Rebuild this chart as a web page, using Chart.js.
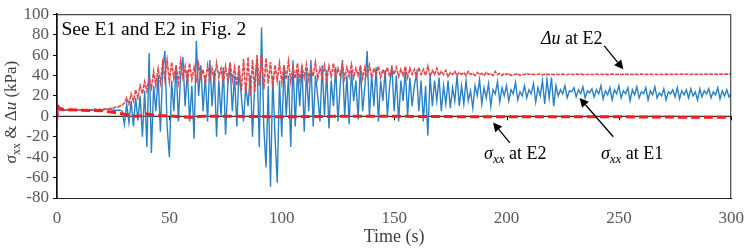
<!DOCTYPE html>
<html lang="en">
<head>
    <meta charset="UTF-8">
    <title>Stress and pore pressure at E1 / E2</title>
    <script src="https://cdn.jsdelivr.net/npm/chart.js"></script>
    <style>
        body { margin: 0; background: #fff; }
        #wrap { width: 754px; height: 248px; }
    </style>
</head>
<body>
    <div id="wrap"><canvas id="stressChart" width="754" height="248"></canvas></div>
    <script>
        // time grid (s), one sample per second
        const times = Array.from({length: 301}, (_, i) => i);

        // sigma_xx at E1 (kPa)
        const sxxE1 = [
            8, 7, 6, 6, 6, 6, 6, 6, 6, 6,
            6, 6, 6, 6, 6, 6, 6, 6, 6, 6,
            6, 7, 7, 7, 7, 6, 6, 6, 6, 5,
            -8, 12, -6, 15, -10, 18, -4, 20, -20, 25,
            -30, 62, -36, 30, 5, 40, -15, 45, 64, -10,
            -40, 35, 5, 50, -5, 40, 58, 10, 45, -5,
            30, -22, 74, 20, 50, 5, 40, -5, 55, 10,
            45, -20, 35, 0, 48, -18, 30, 50, 5, 40,
            -10, 45, 20, -5, 30, 10, 40, -20, 35, 55,
            -30, 87, -10, -50, 30, -69, 40, -20, -65, 35,
            -20, 50, 0, 40, -30, 55, -10, 45, 10, 50,
            -15, 45, 5, 55, -10, 40, 20, -5, 50, 0,
            45, -12, 35, 10, 48, -5, 30, 55, 0, 40,
            -8, 45, 15, 35, -3, 50, 5, 30, 64, 0,
            40, 10, 48, -5, 35, 15, 45, 0, 30, 50,
            5, 40, -5, 35, 15, 45, 0, 38, 10, 30,
            42, 5, 35, -5, 30, -19, 40, 10, 35, 15,
            38, 5, 30, 12, 35, 8, 28, 15, 40, 10,
            30, 12, 35, 15, 25, 8, 30, 20, 36, 12,
            28, 18, 32, 10, 26, 22, 34, 14, 28, 20,
            30, 15, 26, 22, 33, 16, 24, 20, 30, 18,
            26, 22, 32, 14, 28, 20, 35, 12, 36, 18,
            38, 10, 30, 20, 26, 22, 30, 18, 25, 24,
            28, 19, 26, 22, 29, 18, 25, 23, 27, 19,
            26, 22, 30, 17, 25, 21, 28, 16, 26, 22,
            30, 18, 25, 22, 28, 15, 26, 21, 29, 18,
            24, 22, 28, 16, 25, 21, 29, 18, 23, 20,
            27, 16, 24, 22, 26, 19, 28, 17, 25, 21,
            26, 18, 27, 20, 24, 16, 27, 19, 25, 22,
            27, 18, 24, 21, 28, 17, 25, 20, 26, 19,
            22
        ];

        // excess pore pressure du at E2 (kPa)
        const duE2 = [
            -5, 7, 7, 6, 7, 6, 7, 6, 7, 6,
            7, 6, 7, 6, 7, 6, 7, 7, 6, 7,
            6, 7, 7, 7, 8, 8, 9, 9, 10, 11,
            13, 18, 12, 22, 15, 26, 18, 30, 22, 34,
            25, 38, 28, 44, 30, 47, 33, 52, 36, 55,
            34, 53, 37, 50, 33, 54, 38, 49, 32, 52,
            36, 48, 33, 51, 38, 46, 32, 50, 37, 47,
            34, 52, 38, 47, 33, 49, 36, 53, 35, 48,
            30, 50, 25, 56, 22, 58, 20, 55, 24, 60,
            30, 62, 26, 57, 32, 53, 28, 50, 35, 52,
            33, 50, 36, 54, 34, 48, 37, 52, 35, 49,
            38, 51, 36, 48, 39, 53, 37, 47, 38, 50,
            36, 49, 39, 52, 37, 47, 40, 50, 37, 48,
            39, 51, 38, 47, 40, 49, 37, 48, 40, 50,
            38, 47, 41, 49, 38, 46, 40, 48, 39, 47,
            41, 48, 39, 46, 40, 49, 38, 47, 41, 46,
            39, 48, 41, 46, 40, 49, 39, 45, 41, 47,
            40, 44, 41, 45, 39, 43, 41, 44, 40, 43,
            41, 43, 40, 44, 41, 42, 40, 43, 41, 42,
            40, 43, 41, 42, 40, 44, 41, 42, 40, 42,
            41, 42, 40, 41, 41, 42, 40, 41, 41, 42,
            41, 41.5, 40.8, 41.2, 41, 41.6, 40.7, 41.1, 41.4, 40.9,
            41.2, 40.8, 41.5, 41, 40.9, 41.3, 41, 40.7, 41.4, 41.1,
            40.9, 41.3, 41, 41.5, 40.8, 41.2, 41, 41.3, 40.9, 41.1,
            41.4, 40.9, 41.2, 41, 41.3, 40.8, 41.1, 41.4, 41, 40.9,
            41.3, 41.1, 40.9, 41.4, 41, 41.2, 40.8, 41.3, 41.1, 41,
            41.4, 40.9, 41.2, 41.1, 41.3, 40.9, 41.2, 41, 41.4, 41.1,
            41, 41.3, 40.9, 41.2, 41.1, 41.4, 41, 41.2, 41.3, 41,
            41.2, 41.4, 41, 41.3, 41.1, 41.2, 41.4, 41, 41.3, 41.2,
            41.1, 41.4, 41.2, 41.3, 41, 41.4, 41.2, 41.3, 41.5, 41.2,
            41.3
        ];

        // sigma_xx at E2 (kPa), sparse readings
        const e2Times = [0, 1, 3, 10, 20, 25, 30, 35, 38, 40, 42, 45, 50, 55, 60, 65, 80, 100, 125, 150, 175, 200, 225, 250, 275, 300];
        const sxxE2 = [11, 8, 6.5, 6, 5.5, 4, 2, 0, 0.5, 2.5, 1.5, 0.5, 0.5, -0.5, -1, 0, 0, -0.5, 0, 0, -0.3, -0.5, -0.5, -0.5, -0.8, -1];

        const xTicks = [0, 50, 100, 150, 200, 250, 300];
        const yTicks = [-80, -60, -40, -20, 0, 20, 40, 60, 80, 100];

        const serif = '"Liberation Serif", "Times New Roman", serif';

        // text notes [t, kPa, align, runs]; run style: r = roman, i = italic, s = italic subscript
        const notes = [
            [229, 75, 'center', [['Δu', 'i'], [' at E2', 'r']]],
            [242, -37, 'left', [['σ', 'i'], ['xx', 's'], [' at E1', 'r']]],
            [190, -37, 'left', [['σ', 'i'], ['xx', 's'], [' at E2', 'r']]],
            [2, 85, 'left', [['See E1 and E2 in Fig. 2', 'b']]]
        ];
        // arrows [t0, v0, t1, v1], head at the end
        const arrows = [
            [243.5, 69, 252, 46],
            [247.5, -20, 232.5, 18],
            [201.5, -26, 194, -6]
        ];

        function runFont(style) {
            if (style === 'i') return 'italic 18px ' + serif;
            if (style === 's') return 'italic 13px ' + serif;
            if (style === 'b') return '19.5px ' + serif;
            return '18px ' + serif;
        }

        function drawRuns(ctx, runs, x, y, align) {
            let total = 0;
            runs.forEach(r => { ctx.font = runFont(r[1]); total += ctx.measureText(r[0]).width; });
            let cx = align === 'center' ? x - total / 2 : x;
            ctx.textBaseline = 'middle';
            ctx.textAlign = 'left';
            runs.forEach(r => {
                ctx.font = runFont(r[1]);
                ctx.fillText(r[0], cx, r[1] === 's' ? y + 5 : y);
                cx += ctx.measureText(r[0]).width;
            });
        }

        const extras = {
            id: 'extras',
            beforeDatasetsDraw(chart) {
                const {ctx, chartArea: a, scales: {x, y}} = chart;
                const y0 = y.getPixelForValue(0);
                ctx.save();
                ctx.strokeStyle = '#000';
                ctx.lineWidth = 1;
                ctx.beginPath();
                ctx.moveTo(a.left, y0);
                ctx.lineTo(a.right, y0);
                xTicks.forEach(t => {
                    const px = Math.round(x.getPixelForValue(t)) + 0.5;
                    ctx.moveTo(px, y0);
                    ctx.lineTo(px, y0 + 4);
                });
                ctx.stroke();
                ctx.restore();
            },
            afterDatasetsDraw(chart) {
                const {ctx, chartArea: a, scales: {x, y}} = chart;
                ctx.save();
                // frame
                ctx.strokeStyle = '#222';
                ctx.lineWidth = 1;
                ctx.strokeRect(a.left, a.top + 0.5, a.right - a.left - 0.5, a.bottom - a.top);

                ctx.fillStyle = '#000';
                notes.forEach(n => drawRuns(ctx, n[3], x.getPixelForValue(n[0]), y.getPixelForValue(n[1]), n[2]));

                ctx.strokeStyle = '#000';
                ctx.lineWidth = 1.3;
                arrows.forEach(ar => {
                    const x0 = x.getPixelForValue(ar[0]), y0 = y.getPixelForValue(ar[1]);
                    const x1 = x.getPixelForValue(ar[2]), y1 = y.getPixelForValue(ar[3]);
                    const ang = Math.atan2(y1 - y0, x1 - x0);
                    const hl = 9, hw = 4.5;
                    const bx = x1 - hl * Math.cos(ang), by = y1 - hl * Math.sin(ang);
                    ctx.beginPath();
                    ctx.moveTo(x0, y0);
                    ctx.lineTo(bx, by);
                    ctx.stroke();
                    ctx.beginPath();
                    ctx.moveTo(x1, y1);
                    ctx.lineTo(bx + hw * Math.sin(ang), by - hw * Math.cos(ang));
                    ctx.lineTo(bx - hw * Math.sin(ang), by + hw * Math.cos(ang));
                    ctx.closePath();
                    ctx.fill();
                });

                // y axis title with subscript and italics
                ctx.translate(12, (a.top + a.bottom) / 2 + 6);
                ctx.rotate(-Math.PI / 2);
                ctx.fillStyle = '#404040';
                const title = [['σ', 'i'], ['xx', 'sr'], [' & ', 'r'], ['Δ', 'r'], ['u', 'i'], [' (kPa)', 'r']];
                let total = 0;
                const f = s => s === 'i' ? 'italic 17px ' + serif : s === 'sr' ? '12px ' + serif : '17px ' + serif;
                title.forEach(r => { ctx.font = f(r[1]); total += ctx.measureText(r[0]).width; });
                let cx = -total / 2;
                ctx.textBaseline = 'middle';
                title.forEach(r => {
                    ctx.font = f(r[1]);
                    ctx.fillText(r[0], cx, r[1] === 'sr' ? 5 : 0);
                    cx += ctx.measureText(r[0]).width;
                });
                ctx.restore();
            }
        };

        const ctx = document.getElementById('stressChart').getContext('2d');
        new Chart(ctx, {
            type: 'line',
            data: {
                datasets: [
                    {
                        label: 'σxx at E2',
                        data: e2Times.map((t, i) => ({x: t, y: sxxE2[i]})),
                        borderColor: '#ff1a1a',
                        borderWidth: 3,
                        borderDash: [9, 4],
                        order: 0
                    },
                    {
                        label: 'Δu at E2',
                        data: times.map((t, i) => ({x: t, y: duE2[i]})),
                        borderColor: '#e2474b',
                        borderWidth: 1.6,
                        borderDash: [4, 1],
                        order: 1
                    },
                    {
                        label: 'σxx at E1',
                        data: times.map((t, i) => ({x: t, y: sxxE1[i]})),
                        borderColor: '#2a80c4',
                        borderWidth: 1.4,
                        order: 2
                    }
                ]
            },
            options: {
                responsive: false,
                animation: false,
                layout: { padding: { top: 5, right: 12, left: 0, bottom: 0 } },
                elements: { point: { radius: 0 }, line: { tension: 0 } },
                plugins: { legend: { display: false }, tooltip: { enabled: false } },
                scales: {
                    x: {
                        type: 'linear',
                        min: 0,
                        max: 300,
                        afterBuildTicks: s => { s.ticks = xTicks.map(v => ({value: v})); },
                        afterFit: s => { s.height = 50; },
                        grid: { display: false, drawTicks: false },
                        border: { display: true, color: '#222', width: 1 },
                        ticks: { autoSkip: false, maxRotation: 0, padding: 10, color: '#595959', font: { family: serif, size: 17 } },
                        title: {
                            display: true,
                            text: 'Time (s)',
                            color: '#404040',
                            font: { family: serif, size: 18 },
                            padding: 0
                        }
                    },
                    y: {
                        min: -80,
                        max: 100,
                        afterBuildTicks: s => { s.ticks = yTicks.map(v => ({value: v})); },
                        afterFit: s => { s.width = 57; },
                        grid: { drawOnChartArea: false, tickLength: 4, color: '#000' },
                        border: { display: true, color: '#000', width: 1.5 },
                        ticks: { autoSkip: false, padding: 4, color: '#595959', font: { family: serif, size: 17 } }
                    }
                }
            },
            plugins: [extras]
        });
    </script>
</body>
</html>
